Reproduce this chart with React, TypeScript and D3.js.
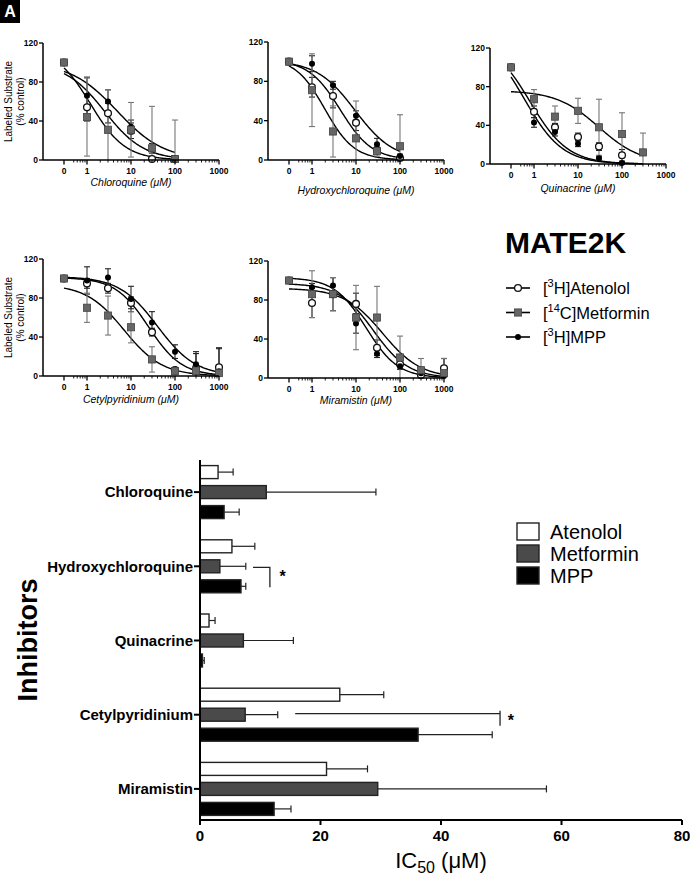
import * as d3 from "d3";

const FONT = "'Liberation Sans', Arial, Helvetica, sans-serif";

const substrates = ["Atenolol", "Metformin", "MPP"];
const inhibitors = ["Chloroquine", "Hydroxychloroquine", "Quinacrine", "Cetylpyridinium", "Miramistin"];

// concentrations (µM); 0 = control
const concShort = [0, 1, 3, 10, 30, 100];
const concQuin = [0, 1, 3, 10, 30, 100, 300];
const concLong = [0, 1, 3, 10, 30, 100, 300, 1000];

// rows: Atenolol, Metformin, MPP  (% control)
const cqMean = [[100, 54, 48, 30, 1, 1], [100, 44, 31, 31, 12, 1], [100, 66, 60, 34, 12, 2]];
const cqErr = [[0, 14, 10, 8, 1, 1], [0, 40, 41, 28, 43, 40], [0, 19, 12, 7, 5, 2]];
const cqFit = [[100, 2.5, 0.97], [115, 1.2, 1.1], [100, 4.9, 0.82]];

const hcqMean = [[100, 74, 65, 38, 10, 2], [100, 71, 29, 22, 9, 14], [100, 98, 76, 45, 16, 4]];
const hcqErr = [[0, 10, 12, 8, 3, 1], [0, 37, 26, 38, 5, 32], [0, 8, 4, 5, 6, 2]];
const hcqFit = [[102, 4.4, 1.2], [104, 1.95, 1.3], [101, 9.5, 1.0]];

const qnMean = [[100, 54, 38, 28, 18, 9, NaN], [100, 67, 49, 55, 38, 31, 12], [100, 43, 33, 21, 6, 1, NaN]];
const qnErr = [[0, 6, 4, 4, 4, 6, 0], [0, 10, 11, 13, 29, 22, 20], [0, 5, 4, 3, 2, 1, 0]];
const qnFit = [[130, 0.8, 1.0], [76, 30, 0.9], [135, 0.6, 1.0]];

const cpMean = [[100, 95, 90, 75, 45, 6, 8, 9], [100, 70, 62, 50, 17, 5, 5, 3], [100, 98, 101, 79, 55, 25, 12, 5]];
const cpErr = [[0, 5, 5, 6, 4, 2, 15, 19], [0, 15, 20, 16, 13, 3, 5, 5], [0, 14, 9, 13, 11, 7, 13, 24]];
const cpFit = [[101, 25, 1.15], [94, 7, 1.0], [102, 40, 1.0]];

const mrMean = [[100, 77, 86, 76, 31, 14, 3, 10], [100, 86, 86, 62, 62, 21, 8, 5], [100, 93, 95, 56, 25, 12, 5, 2]];
const mrErr = [[0, 15, 17, 11, 8, 5, 3, 10], [0, 24, 17, 33, 32, 22, 12, 15], [0, 4, 8, 10, 4, 3, 2, 18]];
const mrFit = [[97, 25, 1.1], [92, 40, 1.0], [103, 17, 1.2]];

const yTicksPct = [0, 40, 80, 120];
const xTicksConc = [1, 10, 100, 1000];

// IC50 bar chart (µM)
const ic50Atenolol = [3.0, 5.3, 1.5, 23.2, 21.0];
const ic50AtenololErr = [2.5, 3.8, 1.0, 7.3, 6.8];
const ic50Metformin = [11.0, 3.3, 7.2, 7.5, 29.5];
const ic50MetforminErr = [18.2, 4.3, 8.3, 5.4, 28.0];
const ic50Mpp = [4.0, 6.8, 0.4, 36.2, 12.3];
const ic50MppErr = [2.5, 0.8, 0.3, 12.3, 2.8];
const icTicks = [0, 20, 40, 60, 80];

const ZERO_AT = 0.3; // where the control (0) is drawn on the log axis

const panels = [
  { name: "Chloroquine", conc: concShort, mean: cqMean, err: cqErr, fit: cqFit, x0: 43, y0: 160, yTop: 43, labelY: 186, yLabel: true },
  { name: "Hydroxychloroquine", conc: concShort, mean: hcqMean, err: hcqErr, fit: hcqFit, x0: 268, y0: 160, yTop: 42, labelY: 194, yLabel: false },
  { name: "Quinacrine", conc: concQuin, mean: qnMean, err: qnErr, fit: qnFit, x0: 490, y0: 164, yTop: 48, labelY: 192, yLabel: false },
  { name: "Cetylpyridinium", conc: concLong, mean: cpMean, err: cpErr, fit: cpFit, x0: 43, y0: 376, yTop: 259, labelY: 403, yLabel: true },
  { name: "Miramistin", conc: concLong, mean: mrMean, err: mrErr, fit: mrFit, x0: 268, y0: 378, yTop: 261, labelY: 404, yLabel: false },
];

const MET_GRAY = "#666";

function Marker({ kind, x, y }: { kind: number; x: number; y: number }) {
  if (kind === 0) return <circle cx={x} cy={y} r={3.4} fill="#fff" stroke="#111" strokeWidth={1.3} />;
  if (kind === 1) return <rect x={x - 3.6} y={y - 3.6} width={7.2} height={7.2} fill={MET_GRAY} stroke="#444" strokeWidth={0.8} />;
  return <circle cx={x} cy={y} r={3} fill="#000" />;
}

function Panel({ p }: { p: (typeof panels)[number] }) {
  const x = d3.scaleLog().domain([0.1, 1000]).range([p.x0, p.x0 + 176]);
  const y = d3.scaleLinear().domain([0, 120]).range([p.y0, p.yTop]);
  const px = (c: number) => x(c === 0 ? ZERO_AT : c);
  const lastConc = p.conc[p.conc.length - 1];
  const curveXs = d3.range(0, 121).map((i) => Math.pow(10, Math.log10(ZERO_AT) + (i / 120) * (Math.log10(lastConc) - Math.log10(ZERO_AT))));
  const line = d3
    .line<number>()
    .x((c) => x(c))
    .y(() => 0);
  const minor: number[] = [];
  [0.1, 1, 10, 100].forEach((d) => {
    for (let k = 2; k <= 9; k++) if (d * k >= 0.45) minor.push(d * k);
  });
  const order = [0, 2, 1];
  return (
    <g>
      {/* curves */}
      {p.fit.map(([top, ic, h], i) => {
        const path = line.y((c) => y(top / (1 + Math.pow(c / ic, h))))(curveXs);
        return <path key={"c" + i} d={path ?? ""} fill="none" stroke="#000" strokeWidth={1.4} />;
      })}
      {/* error bars + markers */}
      {order.map((s) =>
        p.conc.map((c, j) => {
          const m = p.mean[s][j];
          if (Number.isNaN(m)) return null;
          const e = p.err[s][j];
          const col = s === 1 ? "#777" : "#222";
          const hi = y(Math.min(m + e, 125));
          const lo = y(Math.max(m - e, 0));
          const cx = px(c);
          return (
            <g key={`e${s}-${j}`}>
              {e > 0 && (
                <g stroke={col} strokeWidth={1.1}>
                  <line x1={cx} x2={cx} y1={hi} y2={lo} />
                  <line x1={cx - 3} x2={cx + 3} y1={hi} y2={hi} />
                  {m - e > 0 && <line x1={cx - 3} x2={cx + 3} y1={lo} y2={lo} />}
                </g>
              )}
            </g>
          );
        })
      )}
      {order.map((s) =>
        p.conc.map((c, j) => {
          const m = p.mean[s][j];
          if (Number.isNaN(m)) return null;
          return <Marker key={`m${s}-${j}`} kind={s} x={px(c)} y={y(m)} />;
        })
      )}
      {/* axes */}
      <line x1={p.x0} x2={p.x0} y1={y(120)} y2={p.y0} stroke="#000" strokeWidth={1.5} />
      <line x1={p.x0} x2={p.x0 + 176} y1={p.y0} y2={p.y0} stroke="#000" strokeWidth={1.5} />
      {yTicksPct.map((t) => (
        <g key={"yt" + t}>
          <line x1={p.x0 - 4} x2={p.x0} y1={y(t)} y2={y(t)} stroke="#000" strokeWidth={1.3} />
          <text x={p.x0 - 5} y={y(t)} dy="0.35em" textAnchor="end" fontSize={8.5} fontWeight="bold">
            {t}
          </text>
        </g>
      ))}
      {minor.map((t) => (
        <line key={"mn" + t} x1={x(t)} x2={x(t)} y1={p.y0} y2={p.y0 + 2.5} stroke="#000" strokeWidth={0.9} />
      ))}
      {[ZERO_AT, ...xTicksConc].map((t) => (
        <g key={"xt" + t}>
          <line x1={x(t)} x2={x(t)} y1={p.y0} y2={p.y0 + 4.5} stroke="#000" strokeWidth={1.3} />
          <text x={x(t)} y={p.y0 + 14} textAnchor="middle" fontSize={8.5} fontWeight="bold">
            {t === ZERO_AT ? "0" : t}
          </text>
        </g>
      ))}
      <text x={p.x0 + 88} y={p.labelY} textAnchor="middle" fontSize={10.5} fontStyle="italic">
        {p.name} (μM)
      </text>
      {p.yLabel && (
        <g transform={`translate(12,${(p.y0 + y(120)) / 2}) rotate(-90)`}>
          <text textAnchor="middle" fontSize={10}>
            Labeled Substrate
          </text>
          <text y={12} textAnchor="middle" fontSize={10}>
            (% control)
          </text>
        </g>
      )}
    </g>
  );
}

function CurveLegend() {
  const rows = [
    { sup: "3", main: "H]Atenolol" },
    { sup: "14", main: "C]Metformin" },
    { sup: "3", main: "H]MPP" },
  ];
  const ly = d3.scalePoint<number>().domain([0, 1, 2]).range([288, 337]);
  return (
    <g>
      <text x={505} y={253} fontSize={30} fontWeight="bold">
        MATE2K
      </text>
      {rows.map((r, i) => (
        <g key={i}>
          <line x1={506} x2={530} y1={ly(i)} y2={ly(i)} stroke="#000" strokeWidth={1.6} />
          <Marker kind={i} x={518} y={ly(i)!} />
          <text x={543} y={(ly(i) ?? 0) + 6} fontSize={16.5}>
            [<tspan dy={-7} fontSize={11}>{r.sup}</tspan>
            <tspan dy={7}>{r.main}</tspan>
          </text>
        </g>
      ))}
    </g>
  );
}

function BarChart() {
  const x = d3.scaleLinear().domain([0, 80]).range([200, 682]);
  const yb = d3.scaleBand<string>().domain(inhibitors).range([455, 826]);
  const inner = d3.scaleBand<string>().domain(substrates).range([-30, 30]).paddingInner(0.35).paddingOuter(0.175);
  const values = [ic50Atenolol, ic50Metformin, ic50Mpp];
  const errs = [ic50AtenololErr, ic50MetforminErr, ic50MppErr];
  const fills = ["#fff", "#4a4a4a", "#000"];
  const center = (cat: string) => (yb(cat) ?? 0) + yb.bandwidth() / 2;
  const rowY = (cat: string, sub: string) => center(cat) + (inner(sub) ?? 0) + inner.bandwidth() / 2;
  const yAxisTop = 460;
  const yAxisBottom = 820;
  return (
    <g>
      {inhibitors.map((cat, ci) =>
        substrates.map((sub, si) => {
          const v = values[si][ci];
          const e = errs[si][ci];
          const cy = rowY(cat, sub);
          const top = center(cat) + (inner(sub) ?? 0);
          return (
            <g key={cat + sub}>
              <line x1={x(v)} x2={x(v + e)} y1={cy} y2={cy} stroke="#222" strokeWidth={1.2} />
              <line x1={x(v + e)} x2={x(v + e)} y1={cy - 3.5} y2={cy + 3.5} stroke="#222" strokeWidth={1.2} />
              <rect x={x(0)} y={top} width={x(v) - x(0)} height={inner.bandwidth()} fill={fills[si]} stroke="#222" strokeWidth={1.4} />
            </g>
          );
        })
      )}
      {/* significance brackets */}
      <g stroke="#222" strokeWidth={1.3} fill="none">
        <path d={`M${x(8.8)},${rowY("Hydroxychloroquine", "Metformin") + 1}H${x(11.6)}V${rowY("Hydroxychloroquine", "MPP") + 1}`} />
        <line x1={x(15.8)} x2={x(49.8)} y1={rowY("Cetylpyridinium", "Metformin") - 1} y2={rowY("Cetylpyridinium", "Metformin") - 1} />
        <line x1={x(49.8)} x2={x(49.8)} y1={rowY("Cetylpyridinium", "Metformin") - 4} y2={rowY("Cetylpyridinium", "Metformin") + 11} />
      </g>
      <text x={x(13.7)} y={rowY("Hydroxychloroquine", "Metformin") + 16} fontSize={16} fontWeight="bold" textAnchor="middle">
        *
      </text>
      <text x={x(51.6)} y={rowY("Cetylpyridinium", "Metformin") + 11} fontSize={16} fontWeight="bold" textAnchor="middle">
        *
      </text>
      {/* axes */}
      <line x1={x(0)} x2={x(0)} y1={yAxisTop} y2={yAxisBottom} stroke="#000" strokeWidth={2} />
      <line x1={x(0)} x2={x(80)} y1={yAxisBottom} y2={yAxisBottom} stroke="#000" strokeWidth={2} />
      {icTicks.map((t) => (
        <g key={"it" + t}>
          <line x1={x(t)} x2={x(t)} y1={yAxisBottom} y2={yAxisBottom + 5} stroke="#000" strokeWidth={2} />
          <text x={x(t)} y={yAxisBottom + 21} textAnchor="middle" fontSize={15} fontWeight="bold">
            {t}
          </text>
        </g>
      ))}
      {inhibitors.map((cat) => (
        <g key={"cl" + cat}>
          <line x1={x(0) - 6} x2={x(0)} y1={center(cat)} y2={center(cat)} stroke="#000" strokeWidth={2} />
          <text x={x(0) - 7} y={center(cat)} dy="0.35em" textAnchor="end" fontSize={15} fontWeight="bold">
            {cat}
          </text>
        </g>
      ))}
      <text transform="translate(37,640) rotate(-90)" textAnchor="middle" fontSize={27} fontWeight="bold">
        Inhibitors
      </text>
      <text x={441} y={868} textAnchor="middle" fontSize={22}>
        IC<tspan dy={5} fontSize={16}>50</tspan>
        <tspan dy={-5}> (μM)</tspan>
      </text>
      {/* legend */}
      {substrates.map((s, i) => (
        <g key={"lg" + s}>
          <rect x={517} y={523 + i * 22} width={22} height={17} fill={fills[i]} stroke="#222" strokeWidth={1.4} />
          <text x={550} y={539 + i * 22} fontSize={20}>
            {s}
          </text>
        </g>
      ))}
    </g>
  );
}

export default function App() {
  return (
    <svg
      width={690}
      height={882}
      viewBox="0 0 690 882"
      style={{ position: "absolute", left: 0, top: 0, background: "#fff" }}
      fontFamily={FONT}
    >
      <rect width={690} height={882} fill="#fff" />
      <rect x={0} y={0} width={20} height={23} fill="#000" />
      <text x={10} y={17} textAnchor="middle" fontSize={16} fontWeight="bold" fill="#fff">
        A
      </text>
      {panels.map((p) => (
        <Panel key={p.name} p={p} />
      ))}
      <CurveLegend />
      <BarChart />
    </svg>
  );
}
